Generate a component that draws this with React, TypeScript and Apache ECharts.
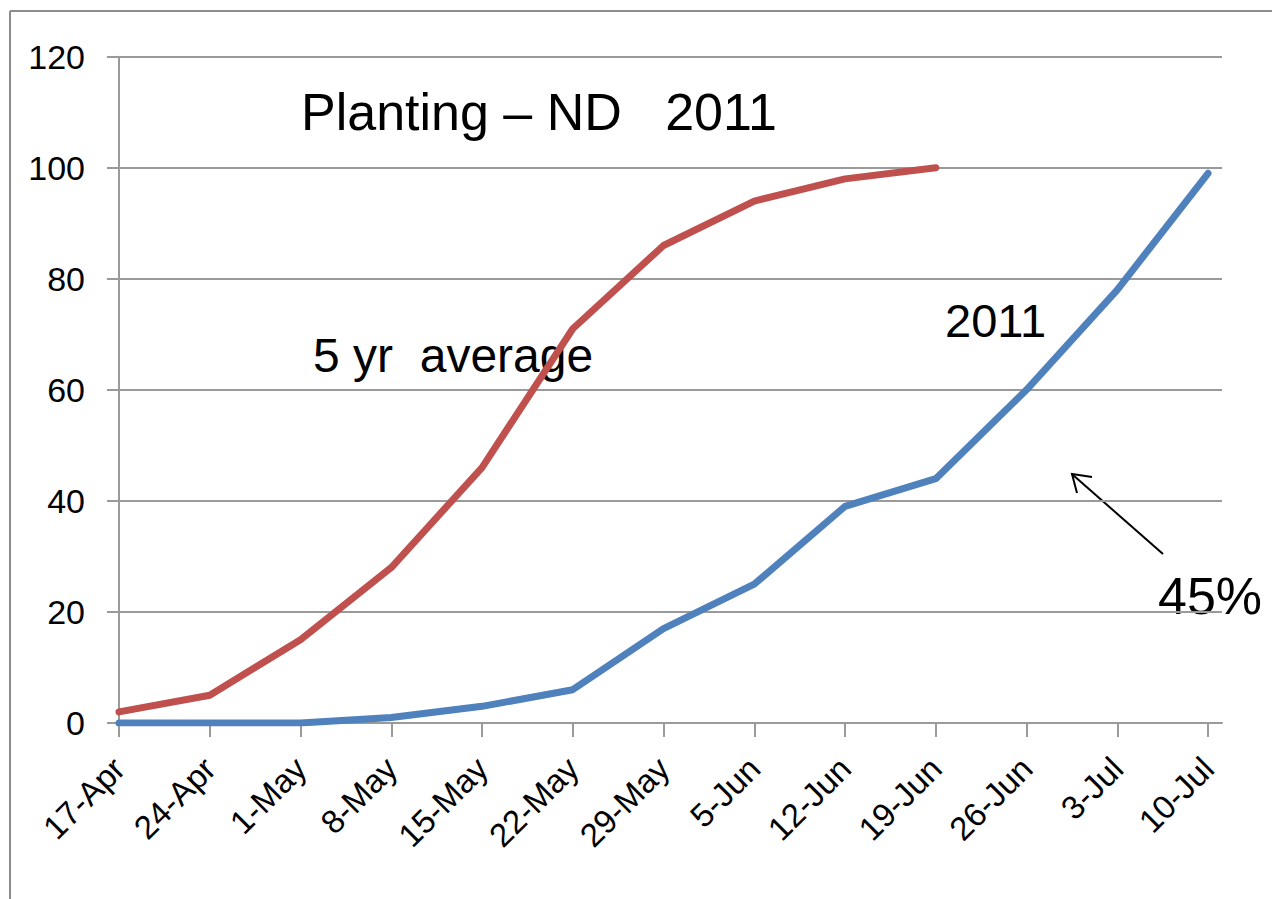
import React, { useEffect, useRef } from "react";
import * as echarts from "echarts";

const categories = ["17-Apr", "24-Apr", "1-May", "8-May", "15-May", "22-May", "29-May", "5-Jun", "12-Jun", "19-Jun", "26-Jun", "3-Jul", "10-Jul"];
const avg5yr = [2, 5, 15, 28, 46, 71, 86, 94, 98, 100];
const y2011 = [0, 0, 0, 1, 3, 6, 17, 25, 39, 44, 60, 78, 99];
const yTicks = [0, 20, 40, 60, 80, 100, 120];

const labelFont = "'Liberation Sans Narrow', 'Liberation Sans', sans-serif";
const textFont = "'Liberation Sans', Arial, sans-serif";

export default function App() {
  const ref = useRef<HTMLDivElement>(null);
  useEffect(() => {
    document.body.style.margin = "0";
    const chart = echarts.init(ref.current!, null, { renderer: "svg" });
    const idx = categories.map((_, i) => i);
    chart.setOption({
      animation: false,
      backgroundColor: "#ffffff",
      grid: { left: 119, right: 50, top: 56.7, bottom: 176, containLabel: false },
      xAxis: {
        type: "value",
        min: 0,
        max: 12.154,
        interval: 1,
        axisLine: { show: true, lineStyle: { color: "#9a9a9a", width: 2 } },
        axisTick: { show: true, length: 14, customValues: idx, lineStyle: { color: "#9a9a9a", width: 2 } },
        splitLine: { show: false },
        axisLabel: {
          customValues: idx,
          rotate: 45,
          margin: 40,
          color: "#000",
          fontSize: 33,
          fontFamily: labelFont,
          formatter: (v: number) => categories[Math.round(v)] ?? "",
        },
      },
      yAxis: {
        type: "value",
        min: yTicks[0],
        max: yTicks[yTicks.length - 1],
        interval: 20,
        axisLine: { show: true, lineStyle: { color: "#9a9a9a", width: 2 } },
        axisTick: { show: true, length: 12, lineStyle: { color: "#9a9a9a", width: 2 } },
        splitLine: { show: true, lineStyle: { color: "#9a9a9a", width: 2 } },
        axisLabel: { margin: 34, color: "#000", fontSize: 34, fontFamily: labelFont },
      },
      series: [
        {
          name: "5 yr average",
          type: "line",
          data: avg5yr.map((v, i) => [i, v]),
          symbol: "none",
          lineStyle: { color: "#C0504D", width: 7, cap: "round", join: "round" },
          itemStyle: { color: "#C0504D" },
        },
        {
          name: "2011",
          type: "line",
          data: y2011.map((v, i) => [i, v]),
          symbol: "none",
          lineStyle: { color: "#4F81BD", width: 7, cap: "round", join: "round" },
          itemStyle: { color: "#4F81BD" },
        },
      ],
      graphic: [
        { type: "line", shape: { x1: 10, y1: 11, x2: 10, y2: 899 }, style: { stroke: "#8c8c8c", lineWidth: 2 } },
        { type: "line", shape: { x1: 10, y1: 11, x2: 1272, y2: 11 }, style: { stroke: "#8c8c8c", lineWidth: 2 } },
        { type: "text", x: 301, y: 112, style: { text: "Planting – ND   2011", font: `52px ${textFont}`, fill: "#000", align: "left", verticalAlign: "middle" } },
        { type: "text", x: 313, y: 355, style: { text: "5 yr  average", font: `48px ${textFont}`, fill: "#000", align: "left", verticalAlign: "middle" } },
        { type: "text", x: 945, y: 320, style: { text: "2011", font: `47px ${textFont}`, fill: "#000", align: "left", verticalAlign: "middle" } },
        { type: "text", x: 1158, y: 596, style: { text: "45%", font: `52px ${textFont}`, fill: "#000", align: "left", verticalAlign: "middle" } },
        { type: "line", shape: { x1: 1163, y1: 554, x2: 1073, y2: 475 }, style: { stroke: "#000", lineWidth: 2 } },
        { type: "polyline", shape: { points: [[1092, 477], [1072, 474], [1077, 493]] }, style: { stroke: "#000", lineWidth: 2, fill: null } },
      ],
    });
    return () => chart.dispose();
  }, []);
  return <div ref={ref} style={{ width: 1272, height: 899 }} />;
}
